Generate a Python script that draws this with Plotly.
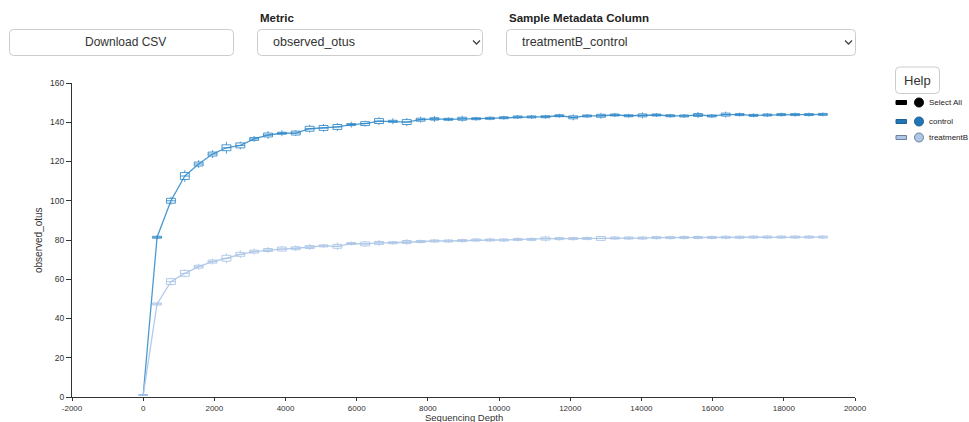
import plotly.graph_objects as go

# Rarefaction depths (one box per depth per group)
depths = [1, 390, 780, 1170, 1559, 1949, 2339, 2729, 3118, 3508,
          3898, 4287, 4677, 5067, 5457, 5846, 6236, 6626, 7015, 7405,
          7795, 8184, 8574, 8964, 9354, 9743, 10133, 10523, 10912, 11302,
          11692, 12082, 12471, 12861, 13251, 13640, 14030, 14420, 14810, 15199,
          15589, 15979, 16368, 16758, 17148, 17537, 17927, 18317, 18707, 19097]

# Median observed_otus per depth
control_median = [1, 81.4, 100.0, 112.6, 118.7, 123.8, 127.0, 128.2, 131.5, 133.5,
                  134.4, 134.5, 136.7, 137.1, 137.6, 138.8, 139.3, 140.6, 140.5, 140.1,
                  141.3, 141.7, 141.5, 141.8, 141.8, 142.0, 142.3, 142.7, 142.7, 142.8,
                  143.3, 142.5, 143.2, 143.3, 143.7, 143.3, 143.5, 143.7, 143.3, 143.2,
                  143.7, 143.2, 143.9, 143.9, 143.5, 143.7, 143.9, 143.9, 143.9, 144.0]
treatment_median = [1, 47.4, 58.8, 63.0, 66.4, 69.0, 70.7, 72.7, 74.1, 74.9,
                    75.4, 75.8, 76.4, 77.0, 76.8, 78.2, 78.0, 78.5, 78.6, 79.0,
                    79.2, 79.5, 79.5, 79.7, 80.0, 80.0, 80.0, 80.3, 80.3, 80.7,
                    80.7, 80.7, 80.8, 80.8, 81.0, 81.0, 81.0, 81.2, 81.2, 81.3,
                    81.3, 81.3, 81.4, 81.4, 81.5, 81.5, 81.5, 81.5, 81.5, 81.5]

# Interquartile spread and whisker spread per depth
control_iqr = [0, 1.0, 2.5, 3.5, 2.0, 2.0, 3.0, 2.5, 1.5, 2.0,
               1.0, 2.0, 2.5, 2.5, 2.5, 1.0, 2.0, 2.5, 1.0, 2.5,
               1.5, 1.2, 1.0, 1.5, 1.0, 1.0, 1.0, 1.0, 1.0, 1.0,
               1.0, 1.5, 1.0, 1.5, 1.0, 1.0, 1.5, 1.0, 1.0, 1.0,
               1.5, 1.0, 1.5, 1.0, 1.0, 1.0, 1.0, 1.0, 1.0, 1.0]
control_whisk = [0, 2.0, 4.0, 6.0, 4.0, 4.0, 6.0, 4.0, 3.0, 4.0,
                 3.0, 3.0, 4.0, 4.0, 4.0, 3.0, 3.0, 4.0, 3.0, 4.0,
                 3.0, 3.0, 2.0, 3.0, 2.0, 2.0, 2.0, 2.0, 2.0, 2.0,
                 2.0, 3.0, 2.0, 3.0, 2.0, 2.0, 3.0, 2.0, 2.0, 2.0,
                 3.0, 2.0, 3.0, 2.0, 2.0, 2.0, 2.0, 2.0, 2.0, 2.0]
treatment_iqr = [0, 1.0, 3.0, 3.0, 1.5, 1.5, 3.0, 2.0, 1.5, 1.5,
                 2.0, 1.5, 1.5, 1.0, 2.0, 1.0, 2.0, 1.5, 1.0, 1.5,
                 1.0, 1.0, 1.0, 1.0, 1.0, 1.0, 1.0, 1.0, 1.0, 1.5,
                 1.0, 1.0, 1.0, 2.0, 1.0, 1.0, 1.0, 1.0, 1.0, 1.0,
                 1.0, 1.0, 1.0, 1.0, 1.0, 1.0, 1.0, 1.0, 1.0, 1.0]
treatment_whisk = [0, 2.0, 4.0, 4.0, 3.0, 3.0, 5.0, 4.0, 3.0, 3.0,
                   3.0, 3.0, 3.0, 2.0, 4.0, 2.0, 3.0, 3.0, 2.0, 3.0,
                   2.0, 2.0, 2.0, 2.0, 2.0, 2.0, 2.0, 2.0, 2.0, 3.0,
                   2.0, 2.0, 2.0, 2.0, 2.0, 2.0, 2.0, 2.0, 2.0, 2.0,
                   2.0, 2.0, 2.0, 2.0, 2.0, 2.0, 2.0, 2.0, 2.0, 2.0]

groups = ["control", "treatmentB"]
group_colors = ["#1f77b4", "#aec7e8"]
line_colors = ["rgba(45,135,200,0.85)", "rgba(174,199,232,0.95)"]

x_ticks = [-2000, 0, 2000, 4000, 6000, 8000, 10000, 12000, 14000, 16000, 18000, 20000]
x_tick_labels = ["-2000", "0", "2000", "4000", "6000", "8000", "10000",
                 "12000", "14000", "16000", "18000", "20000"]
y_ticks = [0, 20, 40, 60, 80, 100, 120, 140, 160]

FONT = "Liberation Sans, Arial, sans-serif"

fig = go.Figure()

series = [(control_median, control_iqr, control_whisk),
          (treatment_median, treatment_iqr, treatment_whisk)]

for name, lc, (med, iqr, wh) in zip(groups, line_colors, series):
    fig.add_trace(go.Scatter(
        x=depths, y=med, mode="lines", name=name,
        line=dict(color=lc, width=1.3), showlegend=False, hoverinfo="skip"))

for name, lc, (med, iqr, wh) in zip(groups, line_colors, series):
    fig.add_trace(go.Box(
        x=depths,
        median=med,
        q1=[m - i / 2 for m, i in zip(med, iqr)],
        q3=[m + i / 2 for m, i in zip(med, iqr)],
        lowerfence=[m - w / 2 for m, w in zip(med, wh)],
        upperfence=[m + w / 2 for m, w in zip(med, wh)],
        width=250, whiskerwidth=0, boxpoints=False,
        line=dict(color=lc, width=1), fillcolor="rgba(255,255,255,0.85)",
        name=name, showlegend=False))

fig.update_layout(
    width=969, height=422,
    margin=dict(l=72, r=114, t=83, b=25),
    paper_bgcolor="white", plot_bgcolor="white",
    boxmode="overlay",
    font=dict(family=FONT, size=9, color="#333"),
    xaxis=dict(range=[-2000, 20000], tickvals=x_ticks, ticktext=x_tick_labels,
               showgrid=False, zeroline=False, automargin=False,
               showline=True, linecolor="#333", linewidth=1.2, ticks="outside",
               ticklen=3, tickcolor="#333", tickfont=dict(size=8, color="#333")),
    yaxis=dict(range=[0, 160], tickvals=y_ticks, showgrid=False, zeroline=False,
               automargin=False,
               showline=True, linecolor="#333", linewidth=1.2, ticks="outside",
               ticklen=5, tickcolor="#333", tickfont=dict(size=8.5, color="#333")),
)

PW, PH, L, T = 783.0, 314.0, 72.0, 83.0


def px(x):
    return (x - L) / PW


def py(y):
    return (T + PH - y) / PH


def rrect(x0, y0, x1, y1, r=4):
    rx, ry = r / PW, r / PH
    a, b, c, d = px(x0), px(x1), py(y0), py(y1)
    return (f"M {a + rx},{c} L {b - rx},{c} Q {b},{c} {b},{c - ry} "
            f"L {b},{d + ry} Q {b},{d} {b - rx},{d} L {a + rx},{d} "
            f"Q {a},{d} {a},{d + ry} L {a},{c - ry} Q {a},{c} {a + rx},{c} Z")


shapes = []
annos = []


def text(x, y, s, size=12, bold=False, anchor="left", color="#333"):
    annos.append(dict(x=px(x), y=py(y), xref="paper", yref="paper", text=(f"<b>{s}</b>" if bold else s),
                      showarrow=False, xanchor=anchor, yanchor="middle",
                      font=dict(family=FONT, size=size, color=color)))


# Controls above the chart
for (x0, x1) in [(9.5, 233.5), (257.5, 482.5), (506.5, 855.5)]:
    shapes.append(dict(type="path", xref="paper", yref="paper", path=rrect(x0, 29.5, x1, 55.5),
                       line=dict(color="#ccc", width=1), fillcolor="white"))
text(125.5, 42.5, "Download CSV", size=12, anchor="center")
text(258, 17.5, "Metric", size=11.5, bold=True, color="#222")
text(271, 42.5, "observed_otus", size=12.5)
text(507, 17.5, "Sample Metadata Column", size=11.5, bold=True, color="#222")
text(520, 42.5, "treatmentB_control", size=12.5)
for cx in [476.5, 848.5]:
    shapes.append(dict(type="path", xref="paper", yref="paper",
                       path=f"M {px(cx - 3.5)},{py(40.5)} L {px(cx)},{py(44)} L {px(cx + 3.5)},{py(40.5)}",
                       line=dict(color="#444", width=1.3)))

# Help button and group selector
shapes.append(dict(type="path", xref="paper", yref="paper", path=rrect(895.5, 67, 939.5, 93.5),
                   line=dict(color="#ccc", width=1), fillcolor="white"))
text(917.5, 80.5, "Help", size=13, anchor="center")

legend_rows = [("Select All", "#000000", "#000000", 102.5),
               ("control", group_colors[0], "#1f5f94", 121.5),
               ("treatmentB", group_colors[1], "#6d7f99", 137.5)]
for label, fill, edge, yy in legend_rows:
    shapes.append(dict(type="rect", xref="paper", yref="paper",
                       x0=px(896), x1=px(906.5), y0=py(yy - 2), y1=py(yy + 2),
                       fillcolor=fill, line=dict(color=edge, width=1)))
    shapes.append(dict(type="circle", xref="paper", yref="paper",
                       x0=px(914.5), x1=px(923.5), y0=py(yy - 4.5), y1=py(yy + 4.5),
                       fillcolor=fill, line=dict(color=edge, width=1)))
    text(926.5, yy, label, size=8, color="#222")

# Axis titles
text(463.5, 417.5, "Sequencing Depth", size=9.5, anchor="center")
annos.append(dict(x=px(38), y=py(240), xref="paper", yref="paper", text="observed_otus",
                  showarrow=False, textangle=-90, xanchor="center", yanchor="middle",
                  font=dict(family=FONT, size=10, color="#333")))

fig.update_layout(shapes=shapes, annotations=annos)

fig.write_html("out.html")
